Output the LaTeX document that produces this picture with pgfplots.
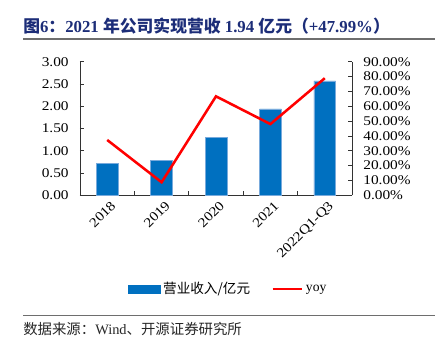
\documentclass[border=0pt]{standalone}
\usepackage{pgfplots}
\pgfplotsset{compat=1.18}
\usepackage{fontspec}
\setmainfont{Liberation Serif}
\newfontfamily\tickfont{Liberation Serif}[FakeStretch=1.15]
\newfontfamily\cjk{Noto Sans CJK SC}
\definecolor{titleblue}{RGB}{28,45,120}
\definecolor{barblue}{RGB}{0,112,192}
\definecolor{baredge}{RGB}{120,170,220}
\definecolor{rulegrey}{RGB}{110,110,110}
\begin{document}
\begin{tikzpicture}
\path[use as bounding box] (0,0) rectangle (332.25pt,264pt);
% title
\node[anchor=base west, text=titleblue, inner sep=0pt, font=\fontsize{12.6}{13}\selectfont\bfseries] at (17.25pt,239.25pt)
 {{\cjk 图}6{\cjk ：}2021 {\cjk 年公司实现营收} 1.94 {\cjk 亿元（}+47.99\%{\cjk ）}};
\draw[rulegrey, line width=0.8pt] (17.25pt,234.75pt) -- (326.25pt,234.75pt);
\draw[rulegrey, line width=0.8pt] (17.25pt,27.2pt) -- (326.25pt,27.2pt);
\node[anchor=base west, inner sep=0pt, text=black!85, font=\fontsize{10.8}{12}\selectfont] at (17.25pt,13.2pt)
 {{\cjk 数据来源：}Wind{\cjk 、开源证券研究所}};
% primary axis
\begin{axis}[
  at={(60pt,117.5pt)}, anchor=south west,
  scale only axis, width=204pt, height=100.2pt,
  xmin=-0.5, xmax=4.5, ymin=0, ymax=3,
  axis x line*=bottom, axis y line*=left,
  axis line style={black!80, line width=0.6pt},
  tick align=inside,
  xtick={0,1,2,3,4},
  xticklabels={2018,2019,2020,2021,2022Q1-Q3},
  major x tick style={draw=none},
  minor xtick={0.5,1.5,2.5,3.5},
  minor tick length=3pt,
  minor x tick style={black!80, line width=0.6pt},
  xticklabel style={rotate=45, anchor=north east, inner sep=1pt, yshift=-3pt, font=\tickfont\fontsize{10}{11}\selectfont},
  ytick={0,0.5,...,3},
  major tick length=3.2pt,
  y tick style={black!80, line width=0.6pt},
  yticklabel style={xshift=-5pt, font=\tickfont\fontsize{10}{11}\selectfont, /pgf/number format/.cd, fixed, fixed zerofill, precision=2, assume math mode=true},
  /pgf/number format/assume math mode=true,
  clip=false,
]
\addplot[ybar, bar width=0.4, fill=barblue, draw=baredge, line width=0.4pt] coordinates {
 (0,0.72) (1,0.78) (2,1.30) (3,1.94) (4,2.57)};
\end{axis}
% secondary axis
\begin{axis}[
  at={(60pt,117.5pt)}, anchor=south west,
  scale only axis, width=204pt, height=100.2pt,
  xmin=-0.5, xmax=4.5, ymin=0, ymax=90,
  axis x line=none, axis y line*=right,
  axis line style={black!80, line width=0.6pt},
  tick align=inside,
  ytick={0,10,...,90},
  major tick length=3.2pt,
  y tick style={black!80, line width=0.6pt},
  yticklabel={\pgfmathprintnumber[fixed, fixed zerofill, precision=2, assume math mode=true]{\tick}\%},
  yticklabel style={xshift=5pt, font=\tickfont\fontsize{10}{11}\selectfont},
  legend style={at={(0.546,-0.70)}, anchor=center, draw=none, fill=none,
    font=\fontsize{10.2}{11}\selectfont, legend columns=2,
    /tikz/every even column/.append style={column sep=14pt}},
  legend cell align=left,
]
\addlegendimage{legend image code/.code={\fill[barblue] (0pt,-3pt) rectangle (24pt,3pt);}}
\addlegendentry{\cjk 营业收入/亿元}
\addplot[red, line width=1.9pt, mark=none, legend image code/.code={\draw[red, line width=1.9pt] (0pt,0pt) -- (22pt,0pt);}] coordinates {
 (0,37.3) (1,8.8) (2,66.7) (3,47.99) (4,78.9)};
\addlegendentry{yoy}
\end{axis}
\end{tikzpicture}
\end{document}
